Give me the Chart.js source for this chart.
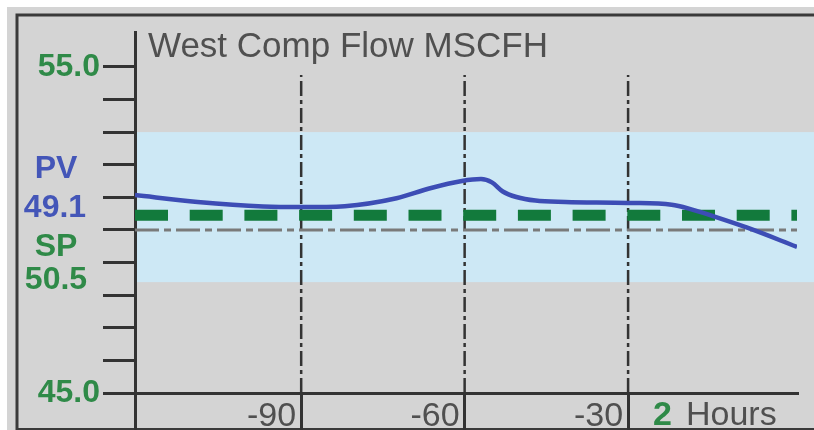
<!DOCTYPE html>
<html>
<head>
<meta charset="utf-8">
<script src="https://cdn.jsdelivr.net/npm/chart.js@4/dist/chart.umd.min.js"></script>
<style>
    html, body { margin: 0; padding: 0; background: #fff; }
    #wrap { position: relative; width: 814px; height: 430px; }
</style>
</head>
<body>
<div id="wrap"><canvas id="flowChart" width="814" height="430"></canvas></div>
<script>
// time axis (minutes) and tick labels
const xMin = -120.5;
const xMax = 1;
const xTickValues = [-120.5, -90, -60, -30];
const gridTimes = [-90, -60, -30];

// y axis
const yMin = 45;
const yMax = 56.07;
const yTickValues = [45, 46, 47, 48, 49, 50, 51, 52, 53, 54, 55];
const yLabelValues = [45, 55];
const gridTop = 54.75;

// process value (PV) trace
const pvTimes = [-120.5, -109, -97, -90, -82, -72.5, -66.5, -60.5, -57, -55, -53, -50.5, -47, -41.5, -30, -22, -19, -14, -8, 1];
const pvValues = [51.07, 50.86, 50.72, 50.70, 50.73, 50.97, 51.27, 51.5, 51.56, 51.46, 51.18, 51.01, 50.9, 50.86, 50.83, 50.77, 50.66, 50.4, 50.06, 49.48];

// setpoint, reference line and normal band
const spValue = 50.45;
const refValue = 50.0;
const bandHigh = 53.0;
const bandLow = 48.4;

const FONT = '"Liberation Sans", Arial, sans-serif';
const GREEN_TEXT = '#2f8a48';
const BLUE_TEXT = '#4456b8';
const DARK = '#333333';

const pvData = pvTimes.map((t, i) => ({ x: t, y: pvValues[i] }));

const gridSets = gridTimes.map(t => ({
    data: [{ x: t, y: yMin }, { x: t, y: gridTop }],
    borderColor: DARK,
    borderWidth: 2.5,
    borderDash: [15, 4, 4, 4],
    pointRadius: 0,
    order: 4
}));

const panelPlugin = {
    id: 'panel',
    beforeDraw(chart) {
        const ctx = chart.ctx;
        const y = chart.scales.y;
        const area = chart.chartArea;
        ctx.save();
        ctx.fillStyle = '#ffffff';
        ctx.fillRect(0, 0, chart.width, chart.height);
        ctx.fillStyle = '#d4d4d4';
        ctx.fillRect(7, 7, chart.width - 7, chart.height - 7);

        // normal operating band
        const top = y.getPixelForValue(bandHigh);
        const bottom = y.getPixelForValue(bandLow);
        ctx.fillStyle = '#cde8f5';
        ctx.fillRect(area.left, top, chart.width - area.left, bottom - top);

        // outer frame
        ctx.strokeStyle = '#3a3a3a';
        ctx.lineWidth = 3;
        ctx.beginPath();
        ctx.moveTo(17, chart.height);
        ctx.lineTo(17, 15);
        ctx.lineTo(chart.width, 15);
        ctx.stroke();
        ctx.lineWidth = 2;
        ctx.beginPath();
        ctx.moveTo(17, 429);
        ctx.lineTo(chart.width, 429);
        ctx.stroke();
        ctx.restore();
    },
    afterDraw(chart) {
        const ctx = chart.ctx;
        const y = chart.scales.y;
        ctx.save();
        ctx.textBaseline = 'alphabetic';

        // title
        ctx.font = '35px ' + FONT;
        ctx.fillStyle = '#505050';
        ctx.textAlign = 'left';
        ctx.fillText('West Comp Flow MSCFH', 148, 57);

        // PV / SP readouts
        ctx.font = 'bold 32px ' + FONT;
        ctx.textAlign = 'center';
        ctx.textBaseline = 'middle';
        ctx.fillStyle = BLUE_TEXT;
        ctx.fillText('PV', 56, y.getPixelForValue(51.87));
        ctx.fillText('49.1', 55, y.getPixelForValue(50.67));
        ctx.fillStyle = GREEN_TEXT;
        ctx.fillText('SP', 56, y.getPixelForValue(49.48));
        ctx.fillText('50.5', 56, y.getPixelForValue(48.47));

        // time span
        ctx.textBaseline = 'alphabetic';
        ctx.textAlign = 'left';
        ctx.font = 'bold 34px ' + FONT;
        ctx.fillStyle = GREEN_TEXT;
        ctx.fillText('2', 653, 425);
        ctx.font = '34px ' + FONT;
        ctx.fillStyle = '#505050';
        ctx.fillText('Hours', 686, 425);
        ctx.restore();
    }
};

new Chart(document.getElementById('flowChart').getContext('2d'), {
    type: 'line',
    data: {
        datasets: [
            {
                label: 'PV',
                data: pvData,
                borderColor: '#3d4db5',
                borderWidth: 4.5,
                pointRadius: 0,
                cubicInterpolationMode: 'monotone',
                order: 1
            },
            {
                label: 'SP',
                data: [{ x: xMin, y: spValue }, { x: xMax, y: spValue }],
                borderColor: '#127a3c',
                borderWidth: 11,
                borderDash: [33, 21.7],
                borderCapStyle: 'butt',
                pointRadius: 0,
                order: 2
            },
            {
                label: 'Ref',
                data: [{ x: xMin, y: refValue }, { x: xMax, y: refValue }],
                borderColor: '#7a7a7a',
                borderWidth: 3,
                borderDash: [24, 5, 7, 5],
                pointRadius: 0,
                order: 3
            },
            ...gridSets
        ]
    },
    options: {
        responsive: false,
        animation: false,
        layout: { padding: { top: 32, right: 17, left: 0, bottom: 0 } },
        plugins: {
            legend: { display: false },
            tooltip: { enabled: false }
        },
        scales: {
            x: {
                type: 'linear',
                min: xMin,
                max: xMax,
                afterBuildTicks: s => { s.ticks = xTickValues.map(v => ({ value: v })); },
                afterFit: s => { s.height = 37; },
                border: { color: DARK, width: 3 },
                grid: {
                    drawOnChartArea: false,
                    drawTicks: true,
                    tickLength: 37,
                    color: DARK,
                    lineWidth: 3
                },
                ticks: {
                    align: 'end',
                    labelOffset: -5,
                    padding: -34,
                    maxRotation: 0,
                    autoSkip: false,
                    color: '#505050',
                    font: { family: FONT, size: 34 },
                    callback: v => (v === xMin ? '' : String(v))
                }
            },
            y: {
                min: yMin,
                max: yMax,
                afterBuildTicks: s => { s.ticks = yTickValues.map(v => ({ value: v })); },
                afterFit: s => { s.width = 135; },
                border: { color: DARK, width: 3 },
                grid: {
                    drawOnChartArea: false,
                    drawTicks: true,
                    tickLength: 32,
                    color: DARK,
                    lineWidth: 3
                },
                ticks: {
                    padding: 3,
                    autoSkip: false,
                    color: GREEN_TEXT,
                    font: { family: FONT, size: 32, weight: 'bold' },
                    callback: v => (yLabelValues.includes(v) ? v.toFixed(1) : '')
                }
            }
        }
    },
    plugins: [panelPlugin]
});
</script>
</body>
</html>
